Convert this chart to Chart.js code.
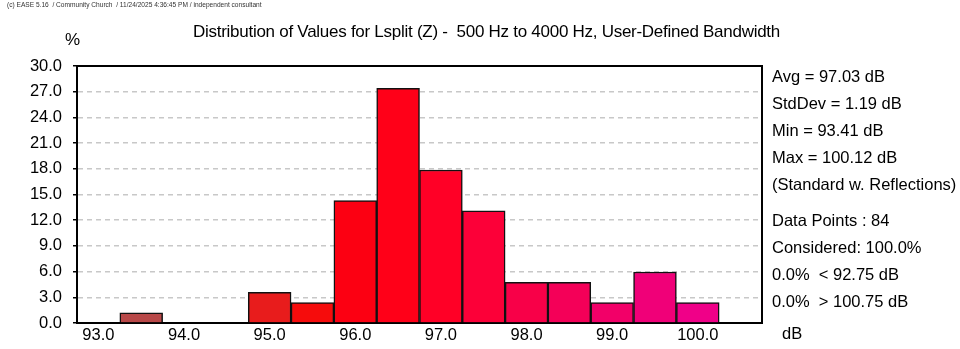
<!DOCTYPE html>
<html>
<head>
<meta charset="utf-8">
<script src="https://cdn.jsdelivr.net/npm/chart.js@4/dist/chart.umd.min.js"></script>
<style>
  html, body { margin: 0; padding: 0; background: #fff; }
  #wrap { position: relative; width: 960px; height: 349px; overflow: hidden; font-family: "Liberation Sans", Arial, sans-serif; color: #000; }
  canvas { position: absolute; left: 0; top: 0; }
  .t { position: absolute; white-space: nowrap; }
  #copy { left: 7px; top: 1px; font-size: 6.6px; line-height: 8px; color: #333; }
  #title { left: 193px; top: 22px; font-size: 17px; line-height: 20px; letter-spacing: -0.27px; }
  #pct { left: 65px; top: 30px; font-size: 17px; line-height: 20px; }
  #stats { left: 772px; top: 63px; font-size: 16.5px; line-height: 27px; }
  #dbl { left: 782px; top: 322px; font-size: 16.5px; line-height: 22px; }
</style>
</head>
<body>
<div id="wrap">
  <canvas id="c" width="960" height="349"></canvas>
  <div class="t" id="copy">(c) EASE 5.16 &nbsp;/ Community Church &nbsp;/ 11/24/2025 4:36:45 PM / independent consultant</div>
  <div class="t" id="title">Distribution of Values for Lsplit (Z) - &nbsp;500 Hz to 4000 Hz, User-Defined Bandwidth</div>
  <div class="t" id="pct">%</div>
  <div class="t" id="stats">
    <div>Avg = 97.03 dB</div>
    <div>StdDev = 1.19 dB</div>
    <div>Min = 93.41 dB</div>
    <div>Max = 100.12 dB</div>
    <div>(Standard w. Reflections)</div>
    <div style="margin-top:9px">Data Points : 84</div>
    <div>Considered: 100.0%</div>
    <div>0.0% &nbsp;&lt; 92.75 dB</div>
    <div>0.0% &nbsp;&gt; 100.75 dB</div>
  </div>
  <div class="t" id="dbl">dB</div>
</div>
<script>
// Bin centers (dB), 0.5 dB wide bins from 92.75 to 100.75
const binCenters = ["93.0","93.5","94.0","94.5","95.0","95.5","96.0","96.5","97.0","97.5","98.0","98.5","99.0","99.5","100.0","100.5"];
// Percent of data points in each bin
const percentValues = [0, 1.19, 0, 0, 3.57, 2.38, 14.29, 27.38, 17.86, 13.10, 4.76, 4.76, 2.38, 5.95, 2.38, 0];
// Y tick settings
const yMin = 0, yMax = 30, yStep = 3;

const barColors = ["#c04848","#b84848","#d03030","#e02020","#e81c1c","#f60c0c","#fc0012","#ff0018","#ff0026","#fc0038","#f80048","#f40058","#f20068","#f00078","#f00088","#f00098"];

const frame = {
  id: 'frame',
  afterDatasetsDraw(chart) {
    const a = chart.chartArea, ctx = chart.ctx;
    ctx.save();
    ctx.strokeStyle = '#000';
    ctx.lineWidth = 2;
    ctx.beginPath();
    ctx.moveTo(a.left, a.top);
    ctx.lineTo(a.right, a.top);
    ctx.lineTo(a.right, a.bottom);
    ctx.stroke();
    ctx.restore();
  }
};

const tickFont = { family: "'Liberation Sans', Arial, sans-serif", size: 16.5 };

new Chart(document.getElementById('c'), {
  type: 'bar',
  data: {
    labels: binCenters,
    datasets: [{
      data: percentValues,
      backgroundColor: barColors,
      borderColor: '#111',
      borderWidth: 1.5,
      borderSkipped: 'start',
      barPercentage: 1,
      categoryPercentage: 1
    }]
  },
  options: {
    responsive: false,
    animation: false,
    devicePixelRatio: 1,
    layout: { padding: { top: 66, right: 198, bottom: 0, left: 0 } },
    plugins: { legend: { display: false }, tooltip: { enabled: false }, title: { display: false } },
    scales: {
      x: {
        type: 'category',
        offset: true,
        border: { display: true, color: '#000', width: 2 },
        grid: { display: true, drawOnChartArea: false, drawTicks: false },
        ticks: {
          autoSkip: false, maxRotation: 0, minRotation: 0, padding: 3,
          color: '#000', font: tickFont,
          callback: function(v, i) { const l = binCenters[i]; return l.endsWith('.0') ? l : ''; }
        },
        afterFit: s => { s.height = 26; }
      },
      y: {
        min: yMin, max: yMax,
        border: { display: true, color: '#000', width: 2, dash: [5, 4] },
        grid: {
          color: c => (c.tick && (c.tick.value === yMin || c.tick.value === yMax)) ? 'rgba(0,0,0,0)' : '#c8c8c8',
          lineWidth: 1.5,
          drawTicks: true, tickLength: 4, tickColor: '#000', tickWidth: 1.5, tickBorderDash: []
        },
        ticks: {
          stepSize: yStep, padding: 11, color: '#000', font: tickFont,
          callback: v => Number(v).toFixed(1)
        },
        afterFit: s => { s.width = 77; }
      }
    }
  },
  plugins: [frame]
});
</script>
</body>
</html>
